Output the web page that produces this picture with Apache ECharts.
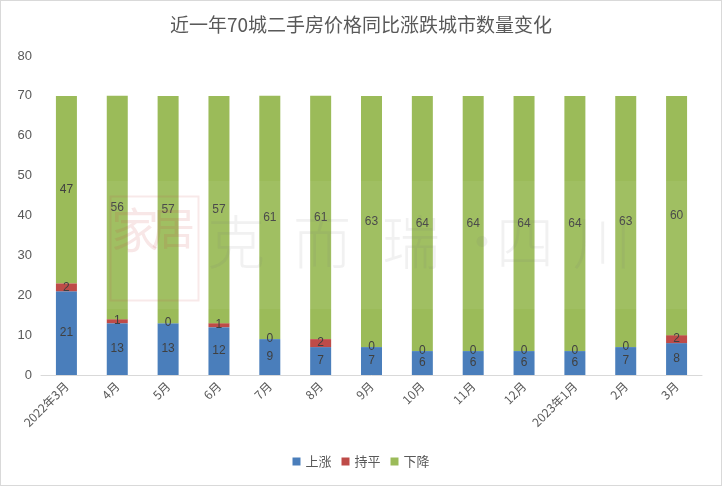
<!DOCTYPE html>
<html><head><meta charset="utf-8">
<script src="https://cdn.jsdelivr.net/npm/echarts@6/dist/echarts.min.js"></script>
<style>html,body{margin:0;padding:0;background:#fff}#c{width:720px;height:484px;border:1px solid #d9d9d9}</style>
</head><body><div id="c"></div>
<script>
const categories = ['2022年3月','4月','5月','6月','7月','8月','9月','10月','11月','12月','2023年1月','2月','3月'];
const rise = [21,13,13,12,9,7,7,6,6,6,6,7,8];
const flat = [2,1,0,1,0,2,0,0,0,0,0,0,2];
const fall = [47,56,57,57,61,61,63,64,64,64,64,63,60];
const chart = echarts.init(document.getElementById('c'));
const lbl = {show:true, position:'inside', color:'#404040', fontSize:12, fontFamily:'Liberation Sans, Noto Sans CJK SC'};
const wmChars = ['克','而','瑞','·','四','川'];
const wmX = [206, 292, 381, 452, 495, 572];
const wm = wmChars.map((ch,i)=>({type:'text', left:wmX[i], top:212,
  style:{text:ch, fontSize:58, fill:'rgba(120,120,120,0.1)', fontFamily:'Noto Sans CJK SC', fontWeight:'300'}, z:100}));
chart.setOption({
  title:{text:'近一年70城二手房价格同比涨跌城市数量变化', left:'center', top:9,
    textStyle:{fontSize:19, fontWeight:'normal', color:'#595959', fontFamily:'Noto Sans CJK SC'}},
  legend:{bottom:12, itemWidth:8, itemHeight:8, itemGap:10, icon:'rect',
    textStyle:{fontSize:13, color:'#595959', fontFamily:'Noto Sans CJK SC'}},
  grid:{left:40, right:19, top:55, bottom:110},
  xAxis:{type:'category', data:categories,
    axisLine:{lineStyle:{color:'#d9d9d9'}}, axisTick:{show:false},
    axisLabel:{rotate:45, color:'#595959', fontSize:12, interval:0, margin:9, fontFamily:'Noto Sans CJK SC'}},
  yAxis:{type:'value', min:0, max:80, interval:10,
    splitLine:{show:false}, axisLine:{show:false}, axisTick:{show:false},
    axisLabel:{color:'#595959', fontSize:13, margin:9, fontFamily:'Liberation Sans'}},
  graphic:[
    {type:'rect', left:100, top:180, shape:{width:610, height:128}, style:{fill:'rgba(255,255,255,0.06)'}, z:99},
    {type:'rect', left:107, top:193, shape:{width:88, height:104}, style:{fill:'none', stroke:'rgba(200,70,70,0.12)', lineWidth:2}, z:100},
    {type:'text', left:110, top:205, style:{text:'家', fontSize:48, fill:'rgba(200,70,70,0.13)', fontFamily:'Noto Sans CJK SC'}, z:100},
    {type:'text', left:150, top:205, style:{text:'居', fontSize:44, fill:'rgba(200,70,70,0.13)', fontFamily:'Noto Sans CJK SC'}, z:100}
  ].concat(wm),
  series:[
    {name:'上涨', type:'bar', stack:'a', data:rise, barWidth:21, itemStyle:{color:'#4a7ebb'}, label:lbl},
    {name:'持平', type:'bar', stack:'a', data:flat, itemStyle:{color:'#be4b48'}, label:lbl},
    {name:'下降', type:'bar', stack:'a', data:fall, itemStyle:{color:'#9bbb59'}, label:lbl}
  ]
});
</script></body></html>
